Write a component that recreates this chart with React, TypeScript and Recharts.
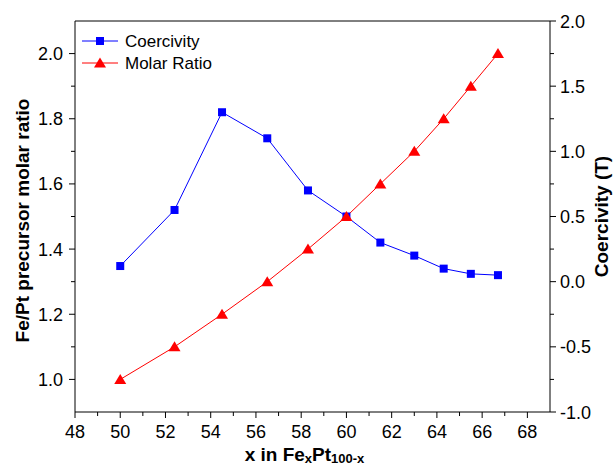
import { LineChart, Line, XAxis, YAxis, ReferenceLine } from 'recharts';

// Fe content x (at.%) for each precursor ratio
const compositions = [50, 52.4, 54.5, 56.5, 58.3, 60, 61.5, 63, 64.3, 65.5, 66.7];
const coercivity = [0.12, 0.55, 1.3, 1.1, 0.7, 0.5, 0.3, 0.2, 0.1, 0.06, 0.05];
const molarRatio = [1.0, 1.1, 1.2, 1.3, 1.4, 1.5, 1.6, 1.7, 1.8, 1.9, 2.0];

const xMajor = [48, 50, 52, 54, 56, 58, 60, 62, 64, 66, 68];
const xMinor = [49, 51, 53, 55, 57, 59, 61, 63, 65, 67];
const leftMajor = [1.0, 1.2, 1.4, 1.6, 1.8, 2.0];
const leftMinor = [1.1, 1.3, 1.5, 1.7, 1.9];
const rightMajor = [-1.0, -0.5, 0.0, 0.5, 1.0, 1.5, 2.0];
const rightMinor = [-0.75, -0.25, 0.25, 0.75, 1.25, 1.75];

const data = compositions.map((x, i) => ({ x, coercivity: coercivity[i], molar: molarRatio[i] }));

const FONT = '"Liberation Sans", Arial, sans-serif';

const XTick = (props: any) => {
  const { x, y, payload } = props;
  const major = xMajor.includes(payload.value);
  return (
    <g>
      <line x1={x} y1={y} x2={x} y2={y + (major ? 6 : 4)} stroke="#000" strokeWidth={1} />
      {major && (
        <text x={x} y={y + 26} textAnchor="middle" fontSize={18} fontFamily={FONT} fill="#000">
          {payload.value}
        </text>
      )}
    </g>
  );
};

const LeftTick = (props: any) => {
  const { x, y, payload } = props;
  const major = leftMajor.includes(payload.value);
  return (
    <g>
      <line x1={x} y1={y} x2={x - (major ? 6 : 4)} y2={y} stroke="#000" strokeWidth={1} />
      {major && (
        <text x={x - 12} y={y + 6.5} textAnchor="end" fontSize={18} fontFamily={FONT} fill="#000">
          {payload.value.toFixed(1)}
        </text>
      )}
    </g>
  );
};

const RightTick = (props: any) => {
  const { x, y, payload } = props;
  const major = rightMajor.includes(payload.value);
  return (
    <g>
      <line x1={x} y1={y} x2={x + (major ? 6 : 4)} y2={y} stroke="#000" strokeWidth={1} />
      {major && (
        <text x={x + 10} y={y + 6.5} textAnchor="start" fontSize={18} fontFamily={FONT} fill="#000">
          {payload.value.toFixed(1)}
        </text>
      )}
    </g>
  );
};

const Square = (props: any) => {
  const { cx, cy } = props;
  if (cx == null || cy == null) return null;
  return <rect x={cx - 4} y={cy - 4} width={8} height={8} fill="#0000ff" />;
};

const Triangle = (props: any) => {
  const { cx, cy } = props;
  if (cx == null || cy == null) return null;
  return <polygon points={`${cx},${cy - 5.5} ${cx + 6},${cy + 4.5} ${cx - 6},${cy + 4.5}`} fill="#ff0000" />;
};

const LegendBox = () => (
  <svg width={160} height={50} style={{ position: 'absolute', left: 80, top: 30, fontFamily: FONT }}>
    <line x1={2} y1={11} x2={38} y2={11} stroke="#0000ff" strokeWidth={1} />
    <rect x={16} y={7} width={8} height={8} fill="#0000ff" />
    <text x={45} y={17} fontSize={17} fill="#000">Coercivity</text>
    <line x1={2} y1={33} x2={38} y2={33} stroke="#ff0000" strokeWidth={1} />
    <polygon points="20,27.5 26,37.5 14,37.5" fill="#ff0000" />
    <text x={45} y={39} fontSize={17} fill="#000">Molar Ratio</text>
  </svg>
);

const LeftTitle = (props: any) => {
  const { viewBox } = props;
  const cx = viewBox.x + 22;
  const cy = viewBox.y + viewBox.height / 2 + 4;
  return (
    <text x={cx} y={cy} transform={`rotate(-90 ${cx} ${cy})`} textAnchor="middle" dominantBaseline="central"
      fontSize={19} fontWeight="bold" fontFamily={FONT} fill="#000">
      Fe/Pt precursor molar ratio
    </text>
  );
};

const RightTitle = (props: any) => {
  const { viewBox } = props;
  const cx = viewBox.x + 51;
  const cy = viewBox.y + viewBox.height / 2;
  return (
    <text x={cx} y={cy} transform={`rotate(-90 ${cx} ${cy})`} textAnchor="middle" dominantBaseline="central"
      fontSize={19} fontWeight="bold" fontFamily={FONT} fill="#000">
      Coercivity (T)
    </text>
  );
};

const XTitle = (props: any) => {
  const { viewBox } = props;
  const cx = viewBox.x + viewBox.width / 2 - 8;
  return (
    <text x={cx} y={viewBox.y + 49} textAnchor="middle" fontSize={19} fontWeight="bold" fontFamily={FONT} fill="#000">
      x in Fe
      <tspan fontSize={13} dy={2}>x</tspan>
      <tspan dy={-2}>Pt</tspan>
      <tspan fontSize={13} dy={2}>100-x</tspan>
    </text>
  );
};

export default function App() {
  return (
    <div style={{ position: 'fixed', left: 0, top: 0, width: 613, height: 467, background: '#fff' }}>
      <LineChart width={613} height={467} data={data} margin={{ top: 21, right: 0, bottom: 0, left: 0 }}>
        <XAxis
          dataKey="x"
          type="number"
          domain={[48, 69]}
          ticks={[...xMajor, ...xMinor].sort((a, b) => a - b)}
          interval={0}
          tickSize={0}
          tickMargin={0}
          tick={<XTick />}
          height={55}
          stroke="#000"
          label={<XTitle />}
        />
        <YAxis
          yAxisId="left"
          type="number"
          domain={[0.9, 2.1]}
          ticks={[...leftMajor, ...leftMinor].sort((a, b) => a - b)}
          interval={0}
          tickSize={0}
          tickMargin={0}
          tick={<LeftTick />}
          width={75}
          stroke="#000"
          allowDataOverflow
          label={<LeftTitle />}
        />
        <YAxis
          yAxisId="right"
          orientation="right"
          type="number"
          domain={[-1, 2]}
          ticks={[...rightMajor, ...rightMinor].sort((a, b) => a - b)}
          interval={0}
          tickSize={0}
          tickMargin={0}
          tick={<RightTick />}
          width={63}
          stroke="#000"
          allowDataOverflow
          label={<RightTitle />}
        />
        <ReferenceLine yAxisId="left" y={2.1} stroke="#000" strokeWidth={1} />
        <Line
          yAxisId="right"
          dataKey="coercivity"
          name="Coercivity"
          stroke="#0000ff"
          strokeWidth={1}
          dot={<Square />}
          activeDot={false}
          isAnimationActive={false}
        />
        <Line
          yAxisId="left"
          dataKey="molar"
          name="Molar Ratio"
          stroke="#ff0000"
          strokeWidth={1}
          dot={<Triangle />}
          activeDot={false}
          isAnimationActive={false}
        />
      </LineChart>
      <LegendBox />
    </div>
  );
}
